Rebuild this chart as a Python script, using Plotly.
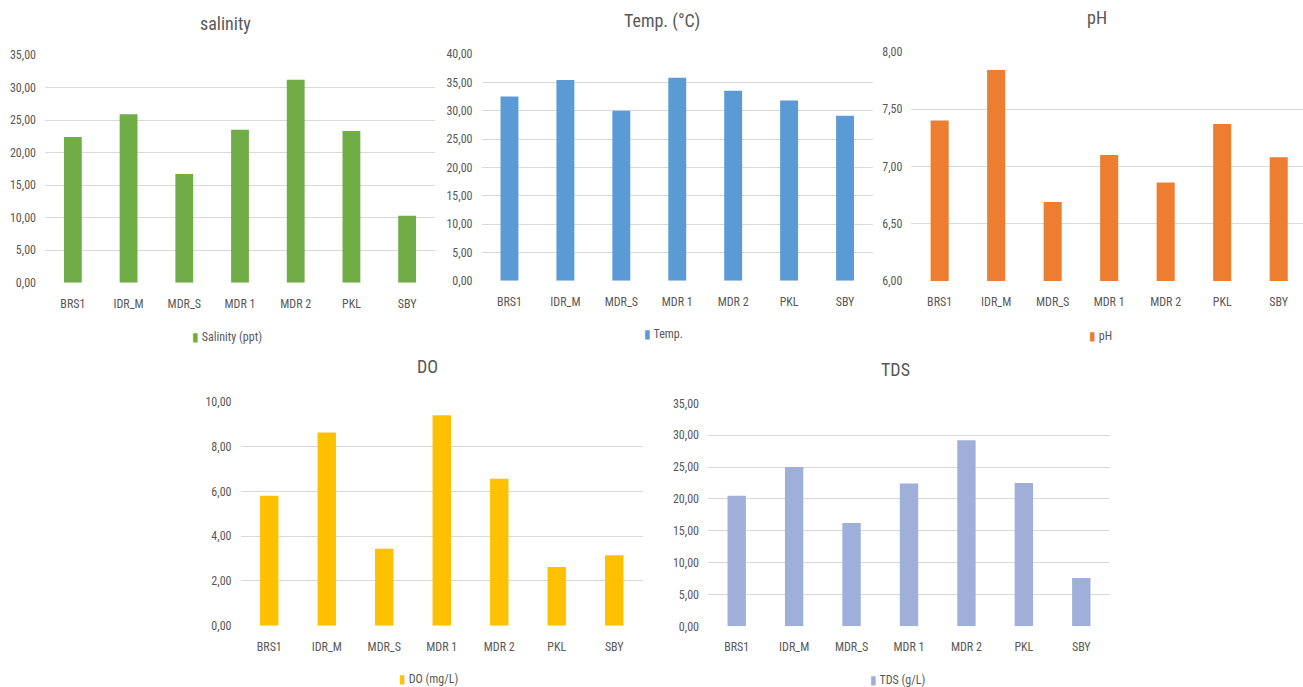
import plotly.graph_objects as go

sites = ["BRS1", "IDR_M", "MDR_S", "MDR 1", "MDR 2", "PKL", "SBY"]
salinity = [22.4, 25.9, 16.7, 23.5, 31.2, 23.3, 10.3]
temp = [32.5, 35.4, 30.0, 35.8, 33.5, 31.8, 29.1]
ph = [7.40, 7.84, 6.69, 7.10, 6.86, 7.37, 7.08]
do = [5.80, 8.62, 3.44, 9.40, 6.56, 2.62, 3.15]
tds = [20.5, 25.0, 16.2, 22.4, 29.2, 22.5, 7.6]

W, H = 1303, 687
FONT = "Liberation Sans Narrow, Roboto Condensed, Lato, sans-serif"
TXT = "#595959"

def px_x(a, b):
    return [a / W, b / W]

def px_y(bottom, top):
    return [1 - bottom / H, 1 - top / H]

panels = [
    ("salinity", "Salinity (ppt)", salinity, "#70AD47", (45, 435), (282.7, 55), [0, 35], 5, [-0.5, 6.5], (225, 23), (227, 337)),
    ("Temp. (°C)", "Temp.", temp, "#5B9BD5", (481.5, 873), (280.7, 54), [0, 40], 5, [-0.5, 6.5], (662, 21), (663, 334)),
    ("pH", "pH", ph, "#ED7D31", (911.4, 1303), (281, 51.7), [6, 8], 0.5, [-0.5, 6.43], (1097, 17), (1100, 336)),
    ("DO", "DO (mg/L)", do, "#FFC000", (240.5, 643), (625.7, 401.7), [0, 10], 2, [-0.5, 6.5], (427, 367), (428, 679)),
    ("TDS", "TDS (g/L)", tds, "#9FAFD9", (708, 1110), (626.3, 403.3), [0, 35], 5, [-0.5, 6.5], (895, 369), (897, 680)),
]

fig = go.Figure()
layout = dict(
    width=W, height=H,
    margin=dict(l=0, r=0, t=0, b=0, pad=0, autoexpand=False),
    paper_bgcolor="white", plot_bgcolor="white",
    separators=",.",
    font=dict(family=FONT, color=TXT, size=12),
    showlegend=False,
    annotations=[],
)

for i, (title, lname, vals, color, xd, yd, yr, dt, xr, tpos, lpos) in enumerate(panels):
    n = "" if i == 0 else str(i + 1)
    xa, ya = "x" + n, "y" + n
    base = yr[0] if yr[0] > 0 else None
    fig.add_trace(go.Bar(
        x=sites, y=[v - yr[0] for v in vals] if base is not None else vals,
        base=base,
        name=lname, marker=dict(color=color, line=dict(width=0)),
        width=0.32, xaxis=xa, yaxis=ya, showlegend=False,
        hovertext=[f"{s}: {v}" for s, v in zip(sites, vals)], hoverinfo="text",
    ))
    layout["xaxis" + n] = dict(
        domain=px_x(*xd), anchor=ya, range=xr, type="category",
        showgrid=False, showline=False, zeroline=False, ticks="",
        tickfont=dict(family=FONT, size=12, color=TXT), ticklabelstandoff=12,
        fixedrange=True, automargin=False,
    )
    layout["yaxis" + n] = dict(
        domain=px_y(*yd), anchor=xa, range=yr, dtick=dt, tick0=yr[0],
        tickformat=".2f", showgrid=True, gridcolor="#D9D9D9", gridwidth=1,
        zeroline=False, showline=False, ticks="",
        tickfont=dict(family=FONT, size=12, color=TXT), ticklabelstandoff=8,
        fixedrange=True, automargin=False,
    )
    layout["annotations"].append(dict(
        text=title, x=tpos[0] / W, y=1 - tpos[1] / H, xref="paper", yref="paper",
        xanchor="center", yanchor="middle", showarrow=False,
        font=dict(family=FONT, size=18, color=TXT),
    ))
    layout["annotations"].append(dict(
        text=f"<span style='color:{color}'>▮</span> {lname}",
        x=lpos[0] / W, y=1 - lpos[1] / H, xref="paper", yref="paper",
        xanchor="center", yanchor="middle", showarrow=False,
        font=dict(family=FONT, size=12, color=TXT),
    ))

fig.update_layout(**layout)
fig.write_html(
    "out.html",
    config={"displayModeBar": False},
    post_script="document.body.style.margin='0';document.body.style.overflow='hidden';",
)
